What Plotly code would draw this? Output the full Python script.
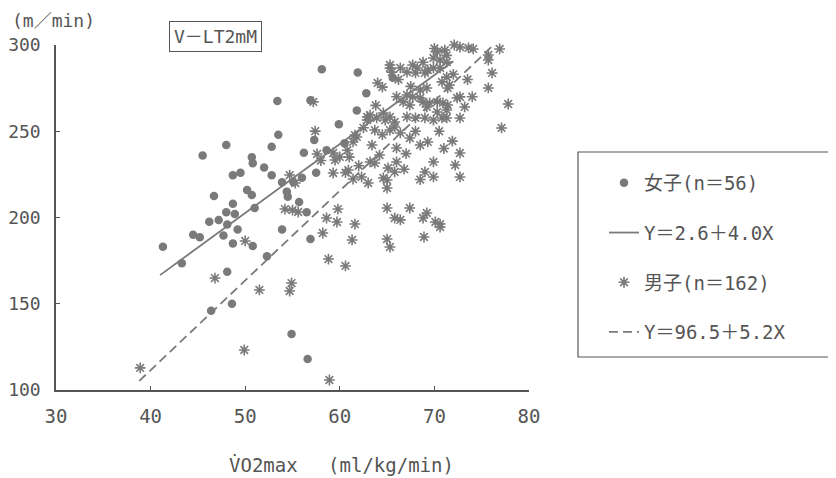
import plotly.graph_objects as go

# female (dots), VO2max vs V-LT2mM
girls_x = [58.1, 61.9, 53.4, 56.9, 62.8, 65.6, 59.9, 53.5, 57.3, 48.0,
           52.8, 45.5, 50.7, 50.8, 56.2, 61.8, 48.7, 52.8, 53.9, 55.1,
           56.0, 46.7, 50.2, 50.7, 54.4, 54.5, 48.7, 51.0, 55.7, 48.0,
           48.9, 46.2, 47.2, 48.1, 49.2, 45.2, 47.7, 48.7, 50.8, 56.5,
           53.9, 56.9, 41.3, 43.3, 48.1, 48.6, 46.4, 54.9, 56.6, 52.3,
           58.6, 57.5, 60.5, 52.0, 49.5, 44.5]
girls_y = [286, 284, 267.5, 268, 272, 281, 254, 248, 245, 242,
           241, 236, 235, 231.5, 237.5, 262, 224.5, 224.5, 220.5, 220.5,
           223, 212.5, 216, 213, 215, 212, 208, 205.5, 209, 203,
           202, 197.5, 198.5, 196, 193, 188.5, 189.5, 185, 183.5, 203,
           193, 187.5, 183, 173.5, 168.5, 150, 146, 132.5, 118, 177.5,
           239, 226, 243, 229, 226, 190]

# male (asterisks)
boys_x = [72.1, 72.7, 73.6, 74.1, 76.9, 75.7, 75.7, 70.3, 71.1, 71.3,
          69.9, 70.6, 71.3, 70.6, 69.9, 65.3, 66.4, 67.7, 68.2, 65.5,
          67.1, 68.0, 69.0, 69.3, 64.5, 71.3, 70.8, 71.6, 71.4, 76.1,
          75.7, 77.8, 77.1, 69.2, 68.5, 67.1, 67.7, 68.5, 66.7, 67.4,
          68.8, 69.5, 70.3, 70.9, 71.4, 72.4, 72.7, 73.2, 69.2, 70.3,
          71.3, 67.1, 68.0, 69.0, 69.9, 70.8, 71.3, 72.7, 63.2, 62.9,
          63.9, 64.8, 65.3, 65.8, 63.7, 65.3, 65.8, 66.4, 61.8, 61.4,
          63.4, 66.0, 67.4, 68.5, 69.3, 71.9, 72.7, 72.2, 72.7, 69.9,
          69.0, 69.9, 64.2, 63.2, 63.7, 66.0, 65.1, 65.8, 64.6, 65.0,
          59.3, 59.5, 60.0, 60.9, 59.3, 61.4, 62.3, 59.8, 58.6, 59.7,
          61.6, 65.0, 67.4, 65.8, 66.4, 68.8, 70.6, 57.2, 57.4, 54.7,
          55.3, 54.2, 55.0, 55.6, 50.0, 46.8, 51.5, 54.9, 54.7, 49.9,
          38.9, 58.9, 60.6, 58.8, 60.6, 61.3, 58.2, 65.0, 65.3, 68.9,
          70.6, 65.0, 57.6, 61.6, 62.9, 64.6, 65.3, 64.0, 69.2, 70.1,
          66.0, 66.2, 67.5, 68.8, 70.0, 72.0, 63.8, 64.5, 62.5, 60.8,
          61.0, 62.0, 67.0, 68.0, 70.5, 71.0, 66.8, 73.5, 74.0, 63.0,
          68.5, 58.0]
boys_y = [300, 298.8, 298.3, 297.7, 297.7, 294.2, 291.3, 296, 297, 294,
          292.5, 291.3, 290.1, 286.7, 286.7, 286.7, 286.7, 288.4, 286.7, 284.3,
          284.3, 283.8, 283.8, 285.5, 275.6, 281.4, 278.6, 276.8, 275.1, 283.8,
          275.1, 265.8, 251.9, 275.1, 273.9, 271.0, 269.9, 269.3, 267, 265.2,
          267, 266.4, 267, 266.4, 265.2, 269.3, 269.9, 264.1, 264.1, 261.2,
          262.3, 258.3, 257.7, 257.7, 256.5, 257.7, 257.7, 257.7, 259.4, 256.5,
          257.7, 256.5, 258.3, 255.4, 250.7, 250.7, 252.5, 249.0, 246.7, 243.8,
          242.0, 240.3, 246.1, 242.0, 243.8, 244.3, 237.4, 230.4, 223.5, 232.2,
          226.4, 223.5, 236.2, 232.2, 231.6, 232.2, 228.7, 226.4, 222.9, 217.1,
          237.4, 233.3, 235.1, 227.5, 225.8, 222.3, 223.5, 204.9, 199.7, 197.4,
          196.2, 205.5, 205.5, 199.7, 198.6, 199.7, 196.2, 267, 250.1, 224.6,
          220, 204.9, 204.3, 203.2, 186.4, 164.9, 158, 162.0, 157.4, 123.2,
          112.8, 105.8, 226, 175.9, 171.9, 187.0, 191, 187.5, 182.9, 188.7,
          194.5, 221.7, 236.8, 247.8, 258.3, 260.6, 288.4, 278, 202.6, 197.4,
          270, 280, 276, 290, 298, 283, 265, 248, 252, 239,
          235, 230, 237, 250, 250, 240, 228, 280, 270, 220,
          222, 233]

# regression lines: Y = a + b*X over the drawn x range
girls_fit = {"a": 2.6, "b": 4.0, "x": [41.0, 72.0]}
boys_fit = {"a": -96.5, "b": 5.2, "x": [38.8, 76.2]}

girls_label = "女子(n＝56)"
girls_fit_label = "Y＝2.6＋4.0X"
boys_label = "男子(n＝162)"
boys_fit_label = "Y＝96.5＋5.2X"

FONT = "DejaVu Sans Mono, Noto Sans CJK JP"
GREY = "#7a7a7a"
INK = "#555555"

# the page body has an 8px margin, so the figure is offset by that much
OFF = 8
L, T = 56 - OFF, 45 - OFF           # plot area edges in the window
PW, PH = 473, 345


def px(xw):
    return (xw - 56) / PW


def py(yw):
    return (390 - yw) / PH


fig = go.Figure()

fig.add_trace(go.Scatter(
    x=girls_x, y=girls_y, mode="markers", name=girls_label,
    legendgroup="g1", cliponaxis=False,
    marker=dict(symbol="circle", size=8.5, color=GREY, line=dict(width=0))))

fig.add_trace(go.Scatter(
    x=girls_fit["x"], y=[girls_fit["a"] + girls_fit["b"] * v for v in girls_fit["x"]],
    mode="lines", name=girls_fit_label, legendgroup="g2",
    line=dict(color=GREY, width=1.8)))

fig.add_trace(go.Scatter(
    x=boys_x, y=boys_y, mode="markers", name=boys_label,
    legendgroup="g3", cliponaxis=False,
    marker=dict(symbol="asterisk-open", size=9, color=GREY,
                line=dict(width=1.6, color=GREY))))

fig.add_trace(go.Scatter(
    x=boys_fit["x"], y=[boys_fit["a"] + boys_fit["b"] * v for v in boys_fit["x"]],
    mode="lines", name=boys_fit_label, legendgroup="g4",
    line=dict(color=GREY, width=1.8, dash="9px,5px")))

# legend frame
fig.add_shape(type="rect", xref="paper", yref="paper",
              x0=px(578), x1=px(845), y0=py(357), y1=py(152),
              line=dict(color="#555", width=1.2), fillcolor="rgba(0,0,0,0)")

fig.add_annotation(text="(m／min)", xref="paper", yref="paper",
                   x=px(10), y=py(21), xanchor="left", yanchor="middle",
                   showarrow=False, font=dict(family=FONT, size=18, color=INK))
fig.add_annotation(text="V－LT2mM", xref="paper", yref="paper",
                   x=px(215), y=py(37), xanchor="center", yanchor="middle",
                   showarrow=False, bordercolor="#555", borderwidth=1, borderpad=4,
                   font=dict(family=FONT, size=18, color=INK))
fig.add_annotation(text="V̇O2max　 (ml/kg/min)", xref="paper", yref="paper",
                   x=px(341), y=py(465), xanchor="center", yanchor="middle",
                   showarrow=False, font=dict(family=FONT, size=19, color=INK))

fig.update_xaxes(range=[30, 80], tickvals=[30, 40, 50, 60, 70, 80],
                 showline=True, linecolor="#555", linewidth=1.5,
                 ticks="inside", ticklen=4, tickcolor="#555", automargin=False,
                 showgrid=False, zeroline=False, ticklabelstandoff=8,
                 tickfont=dict(family=FONT, size=19, color=INK))
fig.update_yaxes(range=[100, 300], tickvals=[100, 150, 200, 250, 300],
                 showline=True, linecolor="#555", linewidth=1.5,
                 ticks="inside", ticklen=4, tickcolor="#555", automargin=False,
                 showgrid=False, zeroline=False, ticklabelstandoff=10,
                 tickfont=dict(family=FONT, size=18, color=INK))

fig.update_layout(
    width=836, height=478,
    margin=dict(l=L, r=836 - L - PW, t=T, b=478 - T - PH, autoexpand=False),
    paper_bgcolor="white", plot_bgcolor="white",
    showlegend=True,
    legend=dict(x=px(604), y=py(164), xanchor="left", yanchor="top",
                tracegroupgap=22, itemwidth=30,
                bgcolor="rgba(0,0,0,0)", borderwidth=0,
                font=dict(family=FONT, size=19, color=INK)),
)

fig.write_html("out.html")
